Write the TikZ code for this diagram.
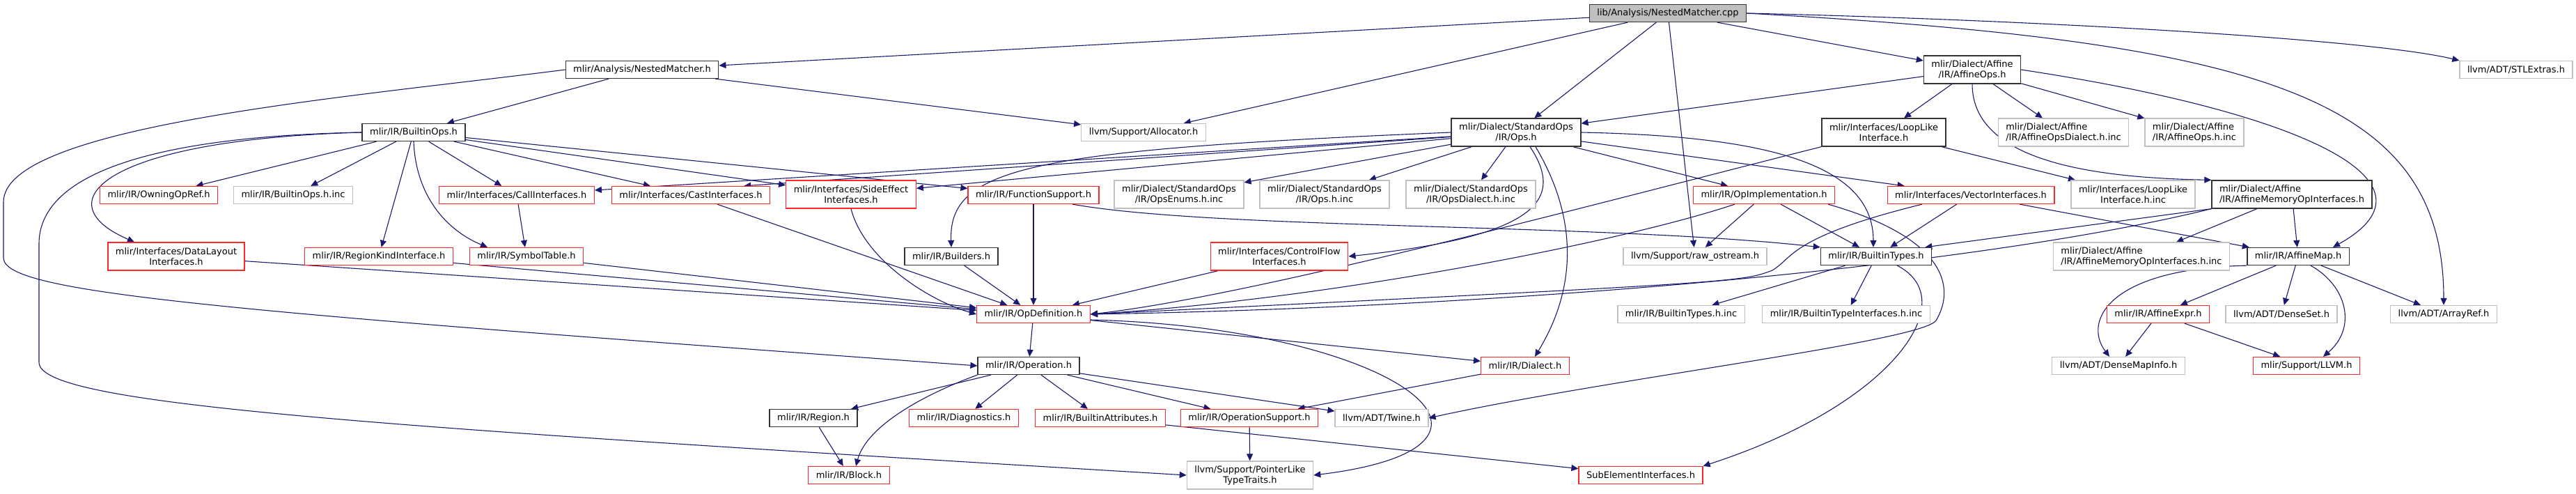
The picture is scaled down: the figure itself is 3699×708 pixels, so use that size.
\documentclass[tikz,border=0pt]{standalone}
\usepackage{fontspec}
\setmainfont{DejaVu Sans}
\usepackage{tikz}
\usetikzlibrary{arrows.meta, backgrounds}

\definecolor{edgeblue}{HTML}{191970}
\definecolor{undocgray}{HTML}{BFBFBF}
\definecolor{truncred}{HTML}{FF0000}

\begin{document}
\begin{tikzpicture}[
  x=0.5pt, y=-0.5pt,
  hdr/.style={draw=black!80, line width=0.65pt, fill=white, inner xsep=5.5pt, inner ysep=1.5pt, minimum height=12.5pt, font=\fontsize{6.5}{7.5}\selectfont, align=center},
  hdrtrunc/.style={hdr, draw=truncred!85},
  hdrext/.style={hdr, draw=undocgray},
  srcfile/.style={hdr, fill=undocgray},
  tall/.style={minimum height=20pt},
  incl/.style={draw=edgeblue, line width=0.55pt, -{Triangle[length=5pt,width=4.5pt]}},
]
\useasboundingbox (0,0) rectangle (3699,708);

% rank 0 and 1
\node[srcfile] (cpp) at (2395,19) {lib/Analysis/NestedMatcher.cpp};
\node[hdr] (nmh) at (922,100) {mlir/Analysis/NestedMatcher.h};
\node[hdr, tall] (aops) at (2832,100) {mlir/Dialect/Affine\\/IR/AffineOps.h};
\node[hdrext] (stl) at (3613,100) {llvm/ADT/STLExtras.h};

% rank 2
\node[hdr] (bops) at (594,190) {mlir/IR/BuiltinOps.h};
\node[hdrext] (alloc) at (1642,190) {llvm/Support/Allocator.h};
\node[hdr, tall] (sops) at (2177,190) {mlir/Dialect/StandardOps\\/IR/Ops.h};
\node[hdr, tall] (loop) at (2705,190) {mlir/Interfaces/LoopLike\\Interface.h};
\node[hdrext, tall, align=left] (aopsd) at (2963,190) {mlir/Dialect/Affine\\/IR/AffineOpsDialect.h.inc};
\node[hdrext, tall, align=left] (aopsinc) at (3151,190) {mlir/Dialect/Affine\\/IR/AffineOps.h.inc};

% rank 3
\node[hdrtrunc] (owning) at (228,280) {mlir/IR/OwningOpRef.h};
\node[hdrext] (bopsinc) at (421,280) {mlir/IR/BuiltinOps.h.inc};
\node[hdrtrunc] (call) at (742,280) {mlir/Interfaces/CallInterfaces.h};
\node[hdrtrunc] (cast) at (992,280) {mlir/Interfaces/CastInterfaces.h};
\node[hdrtrunc, tall] (side) at (1222,279) {mlir/Interfaces/SideEffect\\Interfaces.h};
\node[hdrtrunc] (func) at (1484,280) {mlir/IR/FunctionSupport.h};
\node[hdrext, tall] (enums) at (1693,279) {mlir/Dialect/StandardOps\\/IR/OpsEnums.h.inc};
\node[hdrext, tall] (opsinc) at (1902,279) {mlir/Dialect/StandardOps\\/IR/Ops.h.inc};
\node[hdrext, tall] (opsd) at (2112,279) {mlir/Dialect/StandardOps\\/IR/OpsDialect.h.inc};
\node[hdrtrunc] (opimpl) at (2533,280) {mlir/IR/OpImplementation.h};
\node[hdrtrunc] (vector) at (2830,280) {mlir/Interfaces/VectorInterfaces.h};
\node[hdrext, tall] (loopinc) at (3063,279) {mlir/Interfaces/LoopLike\\Interface.h.inc};
\node[hdr, tall, align=left] (amem) at (3291,279) {mlir/Dialect/Affine\\/IR/AffineMemoryOpInterfaces.h};

% rank 4
\node[hdrtrunc, tall] (dl) at (253,368) {mlir/Interfaces/DataLayout\\Interfaces.h};
\node[hdrtrunc] (rk) at (544,368) {mlir/IR/RegionKindInterface.h};
\node[hdrtrunc] (sym) at (756,368) {mlir/IR/SymbolTable.h};
\node[hdr] (build) at (1366,368) {mlir/IR/Builders.h};
\node[hdrtrunc, tall] (cf) at (1837,368) {mlir/Interfaces/ControlFlow\\Interfaces.h};
\node[hdrext] (raw) at (2434,368) {llvm/Support/raw\_ostream.h};
\node[hdr] (btypes) at (2694,368) {mlir/IR/BuiltinTypes.h};
\node[hdrext, tall, align=left] (ameminc) at (3075,368) {mlir/Dialect/Affine\\/IR/AffineMemoryOpInterfaces.h.inc};
\node[hdr] (amap) at (3300,368) {mlir/IR/AffineMap.h};

% rank 5
\node[hdrtrunc] (opdef) at (1484,451) {mlir/IR/OpDefinition.h};
\node[hdrext] (btinc) at (2414,451) {mlir/IR/BuiltinTypes.h.inc};
\node[hdrext] (btiinc) at (2651,451) {mlir/IR/BuiltinTypeInterfaces.h.inc};
\node[hdrtrunc] (aexpr) at (3099,451) {mlir/IR/AffineExpr.h};
\node[hdrext] (dset) at (3276,451) {llvm/ADT/DenseSet.h};
\node[hdrext] (aref) at (3509,451) {llvm/ADT/ArrayRef.h};

% rank 6
\node[hdr] (op) at (1477,525) {mlir/IR/Operation.h};
\node[hdrtrunc] (dialect) at (2190,525) {mlir/IR/Dialect.h};
\node[hdrext] (dmi) at (3042,525) {llvm/ADT/DenseMapInfo.h};
\node[hdrtrunc] (llvmh) at (3312,525) {mlir/Support/LLVM.h};

% rank 7 and 8
\node[hdr] (region) at (1168,600) {mlir/IR/Region.h};
\node[hdrtrunc] (diag) at (1384,600) {mlir/IR/Diagnostics.h};
\node[hdrtrunc] (battr) at (1580,600) {mlir/IR/BuiltinAttributes.h};
\node[hdrtrunc] (opsup) at (1794,600) {mlir/IR/OperationSupport.h};
\node[hdrext] (twine) at (1984,600) {llvm/ADT/Twine.h};
\node[hdrtrunc] (block) at (1219,682) {mlir/IR/Block.h};
\node[hdrext, tall] (ptr) at (1795,682) {llvm/Support/PointerLike\\TypeTraits.h};
\node[hdrtrunc] (subel) at (2356,682) {SubElementInterfaces.h};

\begin{scope}[on background layer]
% includes of the source file
\draw[incl] (cpp) -- (nmh);
\draw[incl] (cpp) -- (alloc);
\draw[incl] (cpp) -- (sops);
\draw[incl] (cpp) -- (raw);
\draw[incl] (cpp) -- (aops);
\draw[incl] (cpp.east) .. controls (2900,28) and (3400,55) .. (stl.north west);
\draw[incl] (cpp.east) .. controls (3250,60) and (3509,140) .. (aref.north);

% NestedMatcher.h
\draw[incl] (nmh) -- (bops);
\draw[incl] (nmh) -- (alloc);
\draw[incl] (nmh.west) .. controls (500,140) and (5,180) .. (5,290) -- (5,370) .. controls (5,420) and (300,445) .. (op.west);

% BuiltinOps.h
\foreach \t in {owning,bopsinc,call,cast,side,func,rk}
  \draw[incl] (bops) -- (\t);
\draw[incl] (bops.south) .. controls (597,280) and (640,330) .. ([xshift=-28pt]sym.north);
\draw[incl] (bops.west) .. controls (150,200) and (60,290) .. ([xshift=-30pt]dl.north);
\draw[incl] (bops.west) .. controls (250,195) and (56,240) .. (56,350) -- (56,520) .. controls (56,580) and (500,610) .. (ptr.west);

% StandardOps/IR/Ops.h
\foreach \t in {call,side,enums,opsinc,opsd,opimpl,vector}
  \draw[incl] (sops) -- (\t);
\draw[incl] (sops) -- ([xshift=-19pt]cast.north east);
\draw[incl] (sops.west) .. controls (1480,215) and (1362,240) .. (build.north);
\draw[incl] ([xshift=10pt]sops.south) .. controls (2250,290) and (2200,340) .. (cf.east);
\draw[incl] ([xshift=14pt]sops.south) .. controls (2270,320) and (2260,420) .. ([xshift=7pt]dialect.north);
\draw[incl] (sops.east) .. controls (2520,195) and (2690,230) .. ([xshift=-2pt]btypes.north);

% Affine/IR/AffineOps.h
\foreach \t in {sops,loop,aopsd,aopsinc}
  \draw[incl] (aops) -- (\t);
\draw[incl] (aops.south) .. controls (2832,230) and (3000,255) .. (amem.north west);
\draw[incl] (aops.east) .. controls (3300,160) and (3520,260) .. ([xshift=25pt]amap.north);

% second level headers
\draw[incl] (loop) -- (loopinc);
\draw[incl] (loop.south west) .. controls (2300,290) and (1800,425) .. (opdef.east);
\draw[incl] ([xshift=-21pt]opimpl.south) .. controls (2320,350) and (1900,430) .. (opdef.east);
\draw[incl] (opimpl) -- (raw);
\draw[incl] (opimpl) -- (btypes);
\draw[incl] ([xshift=46pt]opimpl.south) .. controls (2790,340) and (2810,410) .. (2780,460) .. controls (2760,490) and (2300,545) .. (twine.east);
\draw[incl] ([xshift=-35pt]vector.south) .. controls (2570,340) and (2575,370) .. (2545,388) .. controls (2500,405) .. (opdef.east);
\draw[incl] (vector) -- (btypes);
\draw[incl] (vector) -- (amap);
\draw[incl] (amem.south west) .. controls (2850,380) and (2200,440) .. (opdef.east);
\draw[incl] (amem.south west) -- ([xshift=-5pt]btypes.north east);
\draw[incl] (amem) -- (ameminc);
\draw[incl] (amem) -- (amap);
\draw[incl] ([xshift=28pt]func.south) .. controls (1750,330) and (2300,320) .. (btypes.north west);
\draw[incl] (call) -- (sym);

% into OpDefinition.h
\foreach \s in {dl,rk,sym,cast,build,func,cf}
  \draw[incl] (\s) -- (opdef);
\draw[incl] (side.south) .. controls (1240,370) and (1330,430) .. (opdef.west);

% OpDefinition.h and below
\draw[incl] (opdef) -- (op);
\draw[incl] (opdef) -- (dialect);
\draw[incl] ([yshift=-4pt]opdef.east) .. controls (2000,470) and (2230,640) .. (ptr.east);
\foreach \t in {region,diag,battr,opsup,twine}
  \draw[incl] (op) -- (\t);
\draw[incl] (op.south west) .. controls (1330,565) and (1245,610) .. ([xshift=5pt]block.north);
\draw[incl] (region) -- (block);
\draw[incl] (battr) -- (subel);
\draw[incl] (opsup) -- (ptr);
\draw[incl] (dialect) -- (opsup);
\draw[incl] (btypes) -- (btinc);
\draw[incl] (btypes) -- (btiinc);
\draw[incl] ([xshift=-25pt]btypes.south east) .. controls (2820,430) and (2720,580) .. (subel.north east);

% AffineMap.h
\foreach \t in {aexpr,dset,aref}
  \draw[incl] (amap) -- (\t);
\draw[incl] (amap.south west) .. controls (3030,385) and (2990,460) .. ([xshift=-6.5pt]dmi.north);
\draw[incl] ([xshift=9pt]amap.south) .. controls (3370,410) and (3385,470) .. ([xshift=12pt]llvmh.north);
\draw[incl] (aexpr) -- (dmi);
\draw[incl] (aexpr) -- (llvmh);
\end{scope}

\end{tikzpicture}
\end{document}
